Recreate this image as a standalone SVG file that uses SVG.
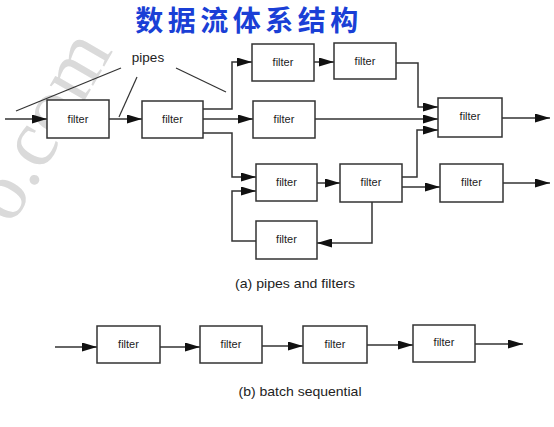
<svg xmlns="http://www.w3.org/2000/svg" width="554" height="427" viewBox="0 0 554 427">
  <defs>
    <marker id="arr" markerUnits="userSpaceOnUse" markerWidth="15" markerHeight="9" refX="15" refY="4.5" orient="auto">
      <path d="M0,0 L15,4.5 L0,9 z" fill="#111"/>
    </marker>
    <style>
      .box { fill: #fff; stroke: #333; stroke-width: 1.5; }
      .lbl { font-family: "Liberation Sans", Arial, sans-serif; font-size: 11px; fill: #222; text-anchor: middle; }
      .cap { font-family: "Liberation Sans", Arial, sans-serif; font-size: 13px; fill: #222; text-anchor: middle; }
      .con { fill: none; stroke: #333; stroke-width: 1.5; marker-end: url(#arr); }
      .pl { fill: none; stroke: #333; stroke-width: 1.2; }
    </style>
  </defs>
  <rect width="554" height="427" fill="#fff"/>

  <g id="watermark">
    <text x="12" y="226" transform="rotate(-60 12 226)" font-family="'Liberation Serif', serif" font-size="82" fill="#dadada">o.com</text>
  </g>

  <g id="title">
    <text x="249" y="31" font-family="'Noto Sans CJK SC', sans-serif" font-size="28" font-weight="bold" fill="#1a3fd6" text-anchor="middle" letter-spacing="4.5">数据流体系结构</text>
  </g>

  <g id="pipes-label">
    <text x="148" y="62" font-family="'Liberation Sans', Arial, sans-serif" font-size="13.5" fill="#222" text-anchor="middle">pipes</text>
    <path class="pl" d="M121,68 L16,111"/>
    <path class="pl" d="M137,77 L119,117"/>
    <path class="pl" d="M176,68 L226,92"/>
  </g>

  <g id="connectors">
    <path class="con" d="M5,119 H47"/>
    <path class="con" d="M109,119 H142"/>
    <path class="con" d="M203,109 H232 V62 H252"/>
    <path class="con" d="M203,119 H253"/>
    <path class="con" d="M203,133 H232 V177 H256"/>
    <path class="con" d="M314,62 H334"/>
    <path class="con" d="M396,63 H418 V107 H438"/>
    <path class="con" d="M315,119 H438"/>
    <path class="con" d="M402,177 H417 V130 H438"/>
    <path class="con" d="M502,118 H550"/>
    <path class="con" d="M317,183 H340"/>
    <path class="con" d="M402,187 H440"/>
    <path class="con" d="M503,183 H550"/>
    <path class="con" d="M372,202 V243 H317"/>
    <path class="con" d="M256,241 H232 V191 H256"/>

    <path class="con" d="M55,347 H97"/>
    <path class="con" d="M160,347 H200"/>
    <path class="con" d="M262,346 H303"/>
    <path class="con" d="M367,345 H413"/>
    <path class="con" d="M475,344 H523"/>
  </g>

  <g id="f1"><rect class="box" x="47" y="100" width="62" height="38"/><text class="lbl" x="78" y="123">filter</text></g>
  <g id="f2"><rect class="box" x="142" y="101" width="61" height="37"/><text class="lbl" x="172.5" y="123">filter</text></g>
  <g id="f3"><rect class="box" x="252" y="44" width="62" height="37"/><text class="lbl" x="283" y="66">filter</text></g>
  <g id="f4"><rect class="box" x="253" y="101" width="62" height="37"/><text class="lbl" x="284" y="123">filter</text></g>
  <g id="f5"><rect class="box" x="256" y="164" width="61" height="37"/><text class="lbl" x="286.5" y="186">filter</text></g>
  <g id="f6"><rect class="box" x="334" y="43" width="62" height="36"/><text class="lbl" x="365" y="65">filter</text></g>
  <g id="f7"><rect class="box" x="438" y="98" width="64" height="39"/><text class="lbl" x="470" y="120">filter</text></g>
  <g id="f8"><rect class="box" x="256" y="221" width="61" height="38"/><text class="lbl" x="286.5" y="243">filter</text></g>
  <g id="f9"><rect class="box" x="340" y="164" width="62" height="38"/><text class="lbl" x="371" y="186">filter</text></g>
  <g id="f10"><rect class="box" x="440" y="164" width="63" height="38"/><text class="lbl" x="471.5" y="186">filter</text></g>

  <g id="caption-a"><text class="cap" x="295" y="288" textLength="120" lengthAdjust="spacingAndGlyphs">(a)  pipes and filters</text></g>

  <g id="b1"><rect class="box" x="97" y="326" width="63" height="37"/><text class="lbl" x="128.5" y="348">filter</text></g>
  <g id="b2"><rect class="box" x="200" y="326" width="62" height="37"/><text class="lbl" x="231" y="348">filter</text></g>
  <g id="b3"><rect class="box" x="303" y="326" width="64" height="37"/><text class="lbl" x="335" y="348">filter</text></g>
  <g id="b4"><rect class="box" x="413" y="325" width="62" height="37"/><text class="lbl" x="444" y="346">filter</text></g>

  <g id="caption-b"><text class="cap" x="300" y="396" textLength="123" lengthAdjust="spacingAndGlyphs">(b)  batch sequential</text></g>
</svg>
